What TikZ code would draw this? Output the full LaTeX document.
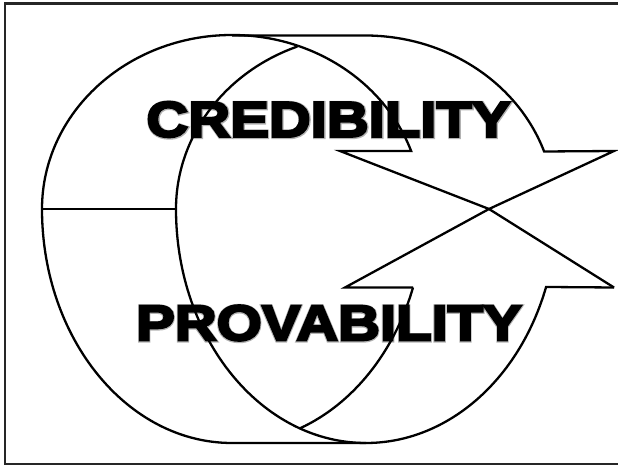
\documentclass[tikz,border=0pt]{standalone}
\usepackage{fontspec}
\newfontfamily\heavy[FakeBold=4.6,FakeStretch=1.16]{Liberation Sans Bold}
\newfontfamily\heavyglow[FakeBold=8,FakeStretch=1.16]{Liberation Sans Bold}
\tikzset{
  outline/.style={draw=black,line width=2.3pt,line join=miter},
  frame/.style={draw=black!85,line width=2.2pt},
  word/.style={inner sep=0pt,font=\heavy\fontsize{50}{50}\selectfont,text=black},
  glowword/.style={inner sep=0pt,font=\heavyglow\fontsize{50}{50}\selectfont,text=black,opacity=0.3}
}
\begin{document}
\begin{tikzpicture}[x=1pt,y=1pt]
\useasboundingbox (0,0) rectangle (618,465);
\coordinate (cross) at (489,256);
\draw[frame] (618,461.5) -- (5,461.5) -- (5,1) -- (618,1);
\draw[outline] (42,256) -- (176,256);
% upper arrow, back
\draw[outline] (232,429.5) -- (365,429.5)
  arc[start angle=90,end angle=19.47,x radius=190,y radius=174]
  -- (614,314) -- (cross) -- (345,177.5) -- (413,177.5);
% upper arrow, front
\draw[outline] (42,256) arc[start angle=180,end angle=90,x radius=190,y radius=174]
  arc[start angle=90,end angle=19.47,x radius=190,y radius=174]
  -- (340,314) -- (cross) -- (614,177.5);
\draw[outline] (176,256) arc[start angle=180,end angle=111,x radius=189,y radius=174];
% lower band
\draw[outline] (42,256) arc[start angle=180,end angle=270,x radius=190,y radius=234] -- (366,22);
\draw[outline] (176,256) arc[start angle=180,end angle=270,x radius=190,y radius=234]
  arc[start angle=270,end angle=340.53,x radius=191,y radius=234]
  -- (614,177.5);
\draw[outline] (413,177.5) arc[start angle=340.53,end angle=290.75,x radius=192,y radius=234];
\node[glowword] (credglow) at (329,345) {CREDIBILITY};
\node[glowword] (provglow) at (329,141.5) {PROVABILITY};
\node[word] (cred) at (328.5,345.5) {CREDIBILITY};
\node[word] (prov) at (329,142) {PROVABILITY};
\end{tikzpicture}
\end{document}
